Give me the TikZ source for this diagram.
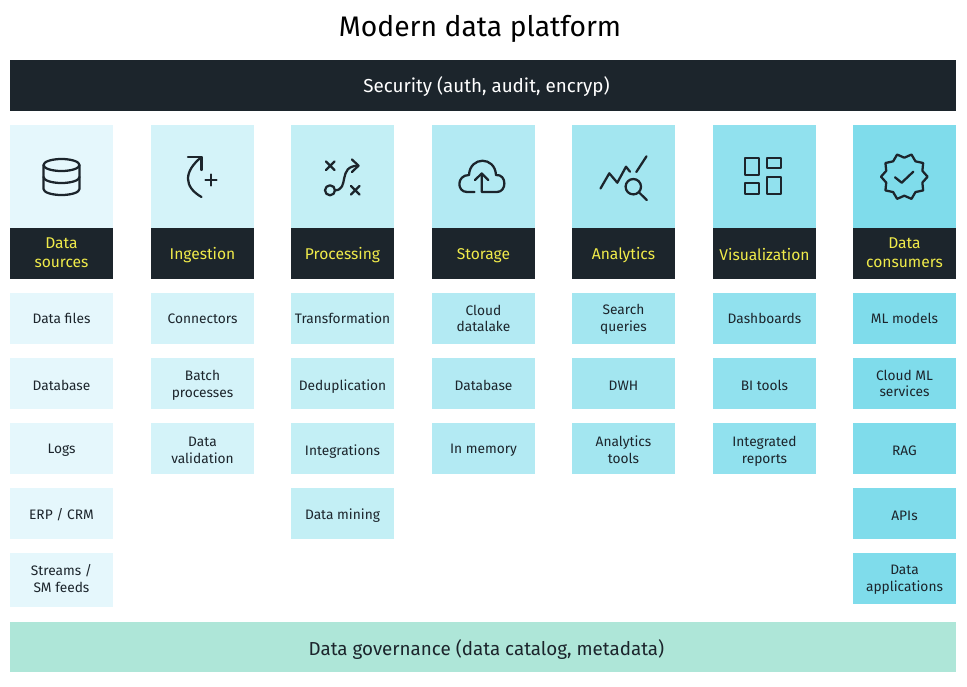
\documentclass[tikz,border=0pt]{standalone}
\usepackage{fontspec}
\usetikzlibrary{calc}
\setmainfont{Fira Sans}
\definecolor{inkdark}{HTML}{1C252C}
\definecolor{headtext}{HTML}{F0EB4A}
\definecolor{govgreen}{HTML}{AEE6D8}
\definecolor{shadeA}{HTML}{E5F7FC}
\definecolor{shadeB}{HTML}{D4F3F9}
\definecolor{shadeC}{HTML}{C3EFF5}
\definecolor{shadeD}{HTML}{B3EAF3}
\definecolor{shadeE}{HTML}{A3E6F0}
\definecolor{shadeF}{HTML}{91E1EE}
\definecolor{shadeG}{HTML}{7FDCEB}

\begin{document}
\begin{tikzpicture}[x=0.75pt, y=-0.75pt, line cap=round, line join=round,
    every node/.style={align=center, inner sep=0pt, text=inkdark},
    itembox/.style={minimum width=77.25pt, minimum height=38pt},
    itemlabel/.style={font=\fontsize{10.3}{12.5}\selectfont},
    iconbox/.style={minimum width=77.25pt, minimum height=77.25pt},
    headbox/.style={minimum width=77.25pt, minimum height=38.25pt, fill=inkdark},
    headlabel/.style={text=headtext, font=\fontsize{11.7}{14.2}\selectfont},
    barbox/.style={minimum width=709.5pt, minimum height=38pt},
    barlabel/.style={xshift=2.6pt, font=\fontsize{14.1}{16}\selectfont},
    icon/.style={draw=inkdark, line width=1.7pt}]
  \useasboundingbox (0,0) rectangle (967,686);

  \node[font=\fontsize{21.2}{24}\selectfont, text=black] (title) at (480,28.5) {Modern data platform};
  \node[barbox, fill=inkdark, label={[barlabel, text=white, yshift=-0.75pt]center:Security (auth, audit, encryp)}] (security) at (483,85.5) {};
  \node[barbox, fill=govgreen, label={[barlabel, yshift=-2pt]center:Data governance (data catalog, metadata)}] (governance) at (483,647) {};

  % column heads
  \foreach \cname/\cx/\cshade/\clab/\dy in {sources/61.5/shadeA/{Data\\sources}/-1,ingest/202.5/shadeB/Ingestion/2,proc/342.5/shadeC/Processing/2,store/483.5/shadeD/Storage/2,analyt/623.5/shadeE/Analytics/2,visual/764.5/shadeF/Visualization/1,consum/904.5/shadeG/{Data\\consumers}/-1} {
    \node[iconbox, fill=\cshade] (\cname icon) at (\cx,176.5) {};
    \node[headbox, label={[headlabel, yshift={-0.75*\dy}]center:\clab}] (\cname head) at (\cx,253.5) {};
  }

  % rows below the heads
  \foreach \cname/\cx/\cshade/\citems in {
      sources/61.5/shadeA/{Data files/0,Database/2,Logs/2,{ERP / CRM}/1.5},
      ingest/202.5/shadeB/{Connectors/0,Batch\\processes/2,Data\\validation/2},
      proc/342.5/shadeC/{Transformation/0,Deduplication/3,Integrations/3,Data mining/2},
      store/483.5/shadeD/{Cloud\\datalake/0,Database/2,In memory/2},
      analyt/623.5/shadeE/{Search\\queries/0.5,DWH/2,Analytics\\tools/1.5},
      visual/764.5/shadeF/{Dashboards/0,BI tools/2,Integrated\\reports/3},
      consum/904.5/shadeG/{ML models/0,Cloud ML\\services/0,RAG/2,APIs/2,Data\\applications/1}} {
    \foreach \lab/\dy [count=\r] in \citems {
      \pgfmathsetmacro{\ry}{318.5+65*(\r-1)}
      \node[itembox, fill=\cshade, label={[itemlabel, yshift={-0.75*\dy}]center:\lab}] (\cname\r) at (\cx,\ry) {};
    }
  }
  \node[itembox, minimum height=40.25pt, fill=shadeA, label={[itemlabel, yshift=1.1pt]center:Streams /\\SM feeds}] (sources5) at (61.5,580) {};

  % icons
  \draw[icon] (61.5,165) ellipse (18 and 6);
  \draw[icon] (43.5,165) -- (43.5,189) arc[start angle=180, end angle=0, x radius=18, y radius=6] -- (79.5,165);
  \draw[icon] (43.5,177) arc[start angle=180, end angle=0, x radius=18, y radius=6];

  \draw[icon] (188,157) -- (201.5,157) -- (201.5,170);
  \draw[icon] (201.5,157) .. controls (183,172) and (184,187) .. (201.5,197);
  \draw[icon] (205.5,180) -- (216.5,180) (211,174.5) -- (211,185.5);

  \draw[icon] (326,161.5) -- (334.5,170) (326,170) -- (334.5,161.5);
  \draw[icon] (351,186) -- (359.5,194.5) (351,194.5) -- (359.5,186);
  \draw[icon] (330,190.3) circle (5);
  \draw[icon] (335,190.3) .. controls (350,190) and (337,166) .. (358,165.7);
  \draw[icon] (352,159.5) -- (358.5,165.7) -- (352,172);

  \draw[icon] (474.5,192) -- (467,192) .. controls (456.5,192) and (456.5,175) .. (469,175)
    .. controls (470,156) and (495,156) .. (496,175)
    .. controls (507,174) and (507,192) .. (497,192) -- (481.7,192) -- (481.7,173.5);
  \draw[icon] (475,180) -- (481.7,173.5) -- (488.3,180);

  \draw[icon] (600.5,188.5) -- (609.3,173.3) -- (617.3,182.7) -- (626,166.7) -- (630,171.7);
  \draw[icon] (636.3,172) -- (646.5,156.3);
  \draw[icon] (633.3,186.7) circle (7.7);
  \draw[icon] (639.3,192.7) -- (646.7,200);

  \draw[icon] (745,157.7) rectangle (759,175);
  \draw[icon] (766.7,157.7) rectangle (781,167.7);
  \draw[icon] (745,183.3) rectangle (759,194);
  \draw[icon] (766.7,176.7) rectangle (781,194);

  \draw[icon] ($(904.3,176.7)+(0:23.3)$)
    \foreach \a in {1,...,9} { -- ($(904.3,176.7)+({\a*36-18}:19)$) -- ($(904.3,176.7)+({\a*36}:23.3)$) } -- ($(904.3,176.7)+(342:19)$) -- cycle;
  \draw[icon] (895,177.3) -- (901.7,182.7) -- (913.3,171.7);
\end{tikzpicture}
\end{document}
